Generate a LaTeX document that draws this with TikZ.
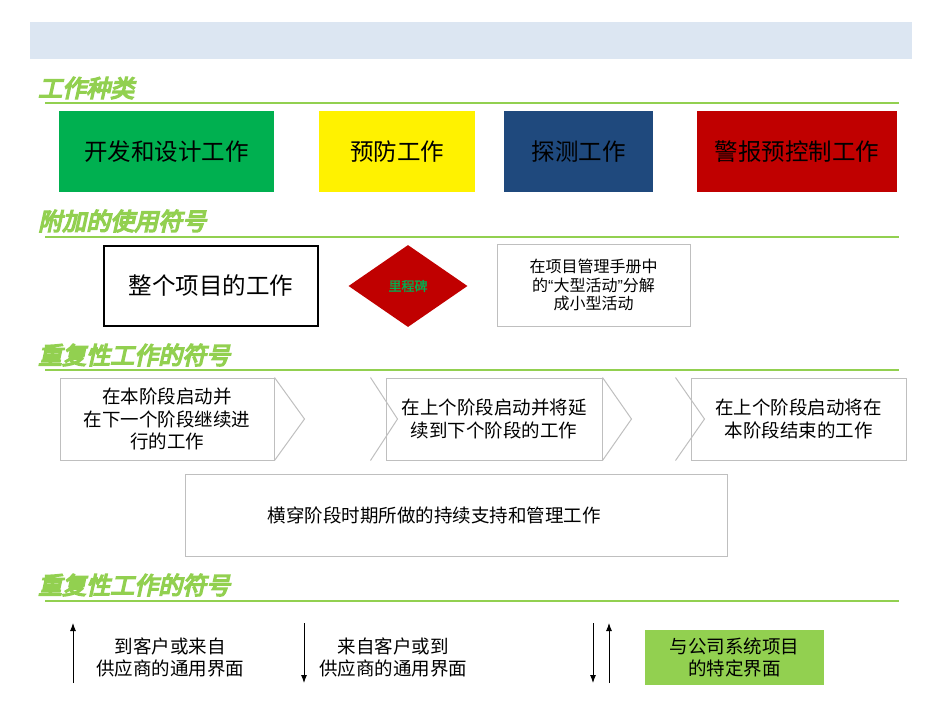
\documentclass[tikz,border=0pt]{standalone}
\usepackage{fontspec}
\setmainfont{Noto Sans CJK SC}
\newfontfamily\headfont[FakeSlant=0.22,FakeBold=6]{Noto Sans CJK SC}
\newfontfamily\markfont[FakeBold=2]{Noto Sans CJK SC}
\newfontfamily\quotefont{Liberation Sans}
\usetikzlibrary{shapes.geometric,arrows.meta}
\definecolor{bandblue}{HTML}{DCE6F2}
\definecolor{headgreen}{HTML}{92D050}
\definecolor{devgreen}{HTML}{00B050}
\definecolor{detectblue}{HTML}{1F497D}
\definecolor{alarmred}{HTML}{C00000}
\definecolor{chevgray}{HTML}{BFBFBF}
\newcommand{\sizeof}[2]{\fontsize{#1}{#2}\selectfont}
\tikzset{
  x=1pt, y=-1pt,
  headtext/.style={anchor=west, inner sep=0pt, text=headgreen,
                   font=\headfont\sizeof{24}{27}},
  headline/.style={draw=headgreen, line width=2.5pt},
  kindbox/.style={minimum height=81, inner sep=0pt, font=\sizeof{23.5}{26}},
  chevbox/.style={draw=chevgray, line width=1pt, minimum height=82,
                  inner sep=0pt, align=center, font=\sizeof{18.5}{22.5}},
  chevline/.style={draw=chevgray, line width=1pt},
  ifarrow/.style={-{Latex[length=8pt,width=6pt]}, line width=0.9pt},
  iftext/.style={align=center, inner sep=0pt, font=\sizeof{18.5}{22}}
}

\begin{document}
\begin{tikzpicture}
  \useasboundingbox (0,0) rectangle (950,713);
  \node[fill=bandblue, minimum width=882, minimum height=37, inner sep=0pt] (band) at (471,40.5) {};

  \node[headtext] (kinds) at (38,88) {工作种类};
  \coordinate (kl) at (45,103);
  \coordinate (kr) at (899,103);
  \draw[headline] (kl) -- (kr);
  \node[kindbox, fill=devgreen, minimum width=215] (dev) at (166.5,151.5) {开发和设计工作};
  \node[kindbox, fill=yellow, minimum width=156] (prevent) at (397,151.5) {预防工作};
  \node[kindbox, fill=detectblue, minimum width=149] (detect) at (578.5,151.5) {探测工作};
  \node[kindbox, fill=alarmred, minimum width=200] (alarm) at (797,151.5) {警报预控制工作};

  \node[headtext] (extras) at (38,221) {附加的使用符号};
  \coordinate (el) at (45,237);
  \coordinate (er) at (899,237);
  \draw[headline] (el) -- (er);
  \node[kindbox, draw, line width=2.5pt, minimum width=214, minimum height=80] (whole) at (211,286) {整个项目的工作};
  \node[diamond, fill=alarmred, minimum width=119, minimum height=82, inner sep=0pt,
        text=devgreen, font=\markfont\sizeof{13}{15}] (mile) at (408,286) {里程碑};
  \node[chevbox, minimum width=193, font=\sizeof{16}{18.5}] (manual) at (593.5,285)
    {在项目管理手册中\\的{\quotefont“}大型活动{\quotefont”}分解\\成小型活动};

  \node[headtext] (repeat) at (38,355) {重复性工作的符号};
  \coordinate (rl) at (45,370);
  \coordinate (rr) at (899,370);
  \draw[headline] (rl) -- (rr);
  \node[chevbox, minimum width=214] (start) at (167,419) {在本阶段启动并\\在下一个阶段继续进\\行的工作};
  \draw[chevline] (start.north east) -- ([xshift=30]start.east) -- (start.south east);
  \node[chevbox, minimum width=216] (carry) at (494,419) {在上个阶段启动并将延\\续到下个阶段的工作};
  \draw[chevline] ([xshift=-15]carry.north west) -- ([xshift=12]carry.west) -- ([xshift=-15]carry.south west);
  \draw[chevline] (carry.north east) -- ([xshift=29]carry.east) -- (carry.south east);
  \node[chevbox, minimum width=215] (finish) at (798.5,419) {在上个阶段启动将在\\本阶段结束的工作};
  \draw[chevline] ([xshift=-15]finish.north west) -- ([xshift=14]finish.west) -- ([xshift=-15]finish.south west);
  \node[chevbox, minimum width=542] (support) at (456,515) {};
  \node[iftext] (supporttext) at (434,515) {横穿阶段时期所做的持续支持和管理工作};

  \node[headtext] (faces) at (38,585) {重复性工作的符号};
  \coordinate (fl) at (45,601);
  \coordinate (fr) at (899,601);
  \draw[headline] (fl) -- (fr);
  \coordinate (outlow) at (73,683);
  \coordinate (outtop) at (73,623);
  \draw[ifarrow] (outlow) -- (outtop);
  \node[iftext] (outtext) at (170,657) {到客户或来自\\供应商的通用界面};
  \coordinate (intop) at (304,623);
  \coordinate (inlow) at (304,683);
  \draw[ifarrow] (intop) -- (inlow);
  \node[iftext] (intext) at (393,657) {来自客户或到\\供应商的通用界面};
  \coordinate (downtop) at (593,623);
  \coordinate (downlow) at (593,683);
  \coordinate (uplow) at (609,683);
  \coordinate (uptop) at (609,623);
  \draw[ifarrow] (downtop) -- (downlow);
  \draw[ifarrow] (uplow) -- (uptop);
  \node[iftext, fill=headgreen, minimum width=179, minimum height=55] (special) at (734.5,657.5) {与公司系统项目\\的特定界面};
\end{tikzpicture}
\end{document}
